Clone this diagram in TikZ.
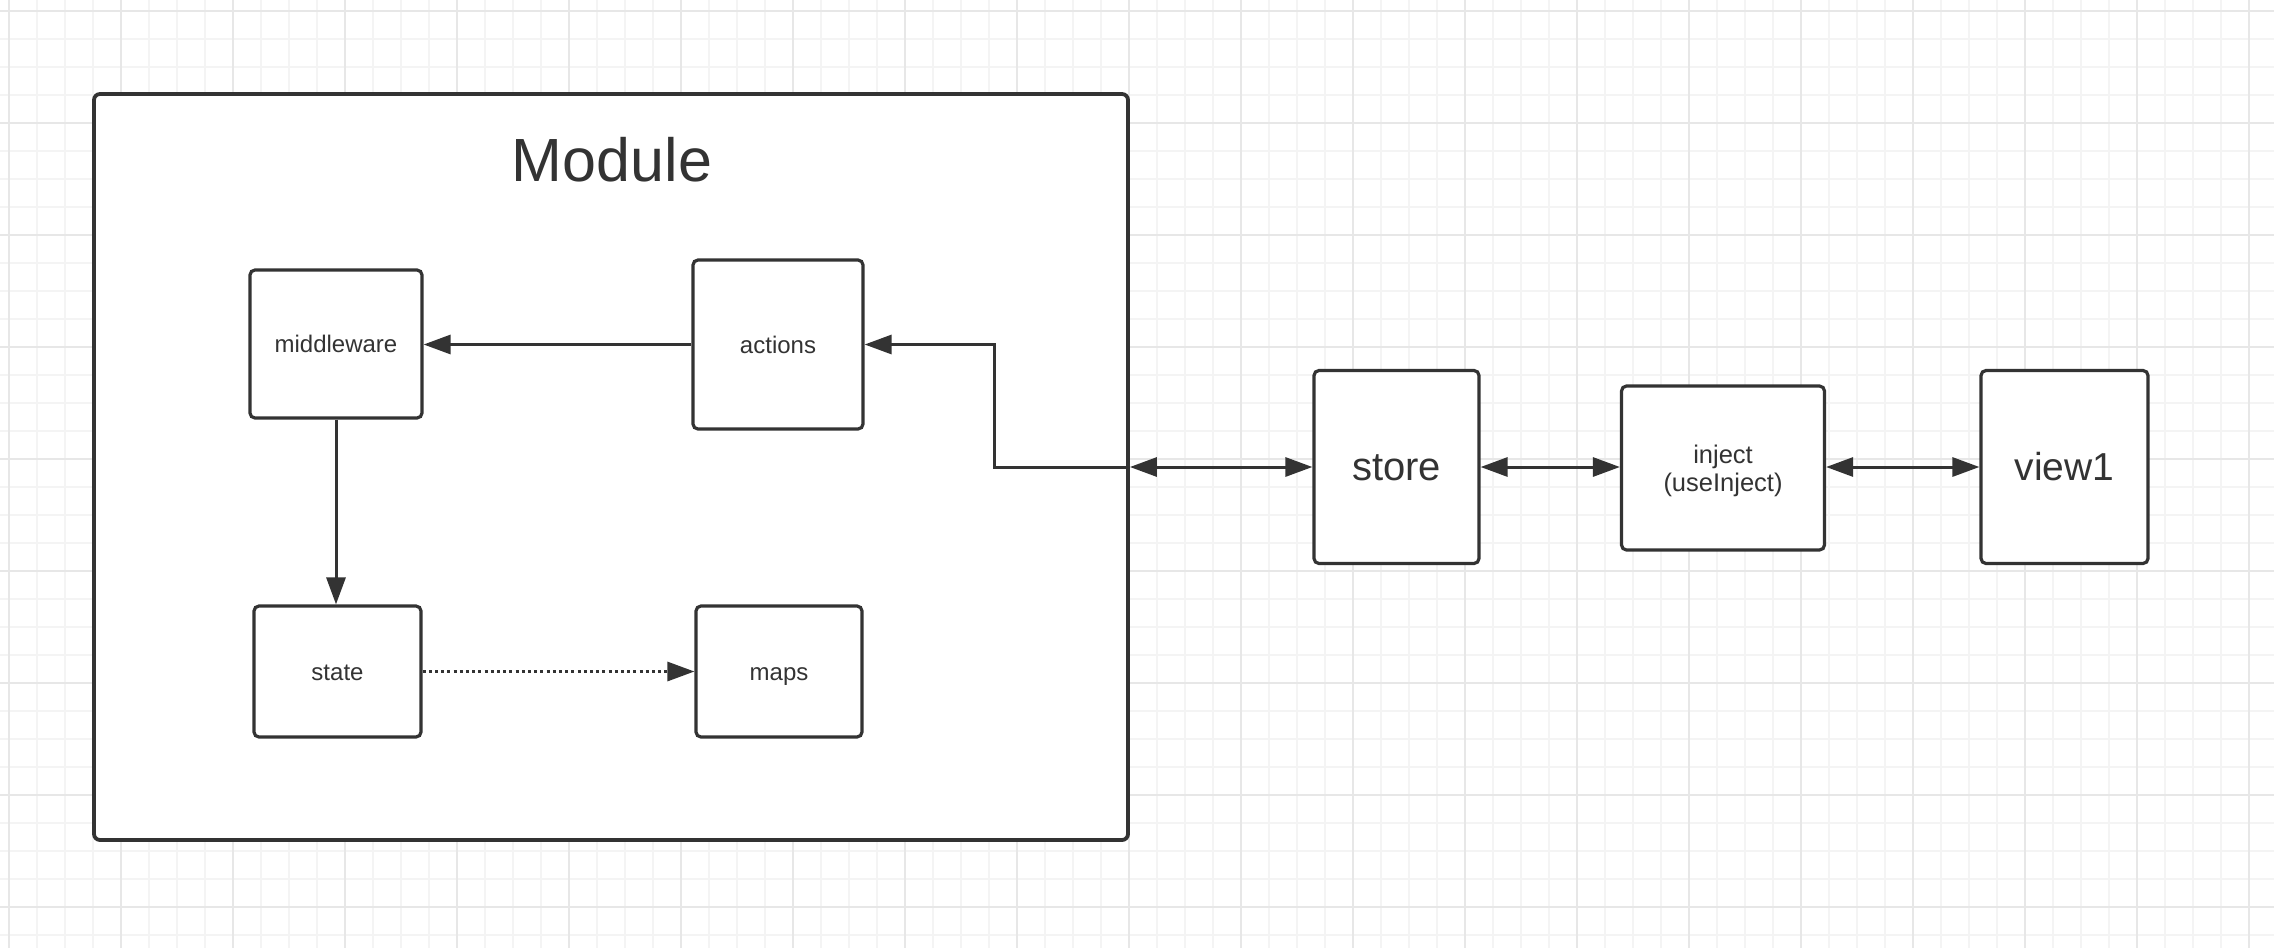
\documentclass[tikz,border=0pt]{standalone}
\usepackage{fontspec}
\setmainfont{Liberation Sans}
\usetikzlibrary{arrows.meta}

\definecolor{ink}{HTML}{333333}
\definecolor{gridminor}{HTML}{F4F4F4}
\definecolor{gridmajor}{HTML}{E7E7E7}

\tikzset{
  box/.style={draw=ink, line width=1.6pt, fill=white, rounded corners=2.5pt,
              text=ink, align=center, inner sep=0pt},
  frame/.style={draw=ink, line width=1.9pt, fill=white, rounded corners=3pt,
              inner sep=0pt},
  small/.style={font=\fontsize{12}{14}\selectfont, text height=11pt, text depth=2.4pt},
  large/.style={font=\fontsize{#1}{#1}\selectfont, text height=0.72*#1 pt + 3.5pt, text depth=0.2*#1 pt},
  tip/.tip={Triangle[length=13.5pt,width=9.5pt]},
  arr/.style={draw=ink, line width=1.5pt, -tip},
  biarr/.style={draw=ink, line width=1.5pt, tip-tip},
  dotline/.style={dash pattern=on 1.5pt off 1.6pt},
}

\begin{document}
\begin{tikzpicture}[x=0.5pt,y=-0.5pt]
  \useasboundingbox (0,0) rectangle (2274,948);
  \fill[white] (0,0) rectangle (2274,948);

  % background grid
  \foreach \x in {9,37,...,2274} \draw[gridminor, line width=0.9pt] (\x,0) -- (\x,948);
  \foreach \y in {11,39,...,948} \draw[gridminor, line width=0.9pt] (0,\y) -- (2274,\y);
  \foreach \x in {9,121,...,2274} \draw[gridmajor, line width=0.9pt] (\x,0) -- (\x,948);
  \foreach \y in {11,123,...,948} \draw[gridmajor, line width=0.9pt] (0,\y) -- (2274,\y);

  % module container
  \node[frame, minimum width=517pt, minimum height=373pt] (module) at (611,467) {};
  \node[text=ink, font=\fontsize{30.5}{35}\selectfont, anchor=base] (title) at (612,181) {Module};

  % inner parts
  \node[box, small, minimum width=86pt, minimum height=74pt] (middleware) at (336,344) {middleware};
  \node[box, small, minimum width=85pt, minimum height=84.5pt] (actions) at (778,344.5) {actions};
  \node[box, small, minimum width=83.5pt, minimum height=65.5pt] (state) at (337.5,671.5) {state};
  \node[box, small, minimum width=83pt, minimum height=65.5pt] (maps) at (779,671.5) {maps};

  % outer chain
  \node[box, large=20, minimum width=82.5pt, minimum height=96.5pt] (store) at (1396.5,467) {store};
  \node[box, font=\fontsize{12.75}{14}\selectfont, text height=26.5pt, text depth=2.7pt,
        minimum width=101.5pt, minimum height=82pt] (inject) at (1723,468) {inject\\(useInject)};
  \node[box, large=19.5, minimum width=83.5pt, minimum height=96.5pt] (view1) at (2064.5,467) {view1};

  % connectors inside the module
  \draw[arr] (actions.west) -- (actions.west -| middleware.east);
  \draw[arr] (middleware.south) -- (middleware.south |- state.north);
  \draw[arr, dotline] (state.east) -- (maps.west);
  \draw[arr] (module.east) -- ++(-135,0) |- (actions.east);

  % connectors between module, store, inject and view
  \draw[biarr] (module.east) -- (store.west);
  \draw[biarr] (store.east) -- (store.east -| inject.west);
  \draw[biarr] (inject.east |- view1.west) -- (view1.west);
\end{tikzpicture}
\end{document}
